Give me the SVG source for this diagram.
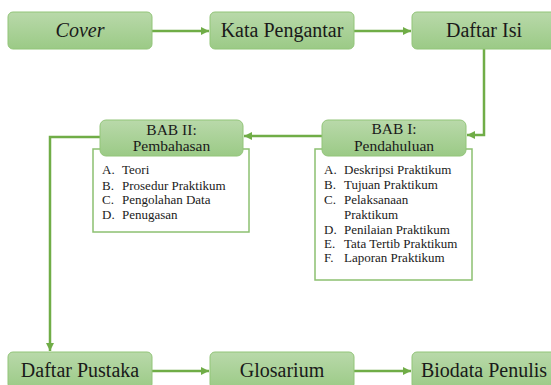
<svg xmlns="http://www.w3.org/2000/svg" width="551" height="385" viewBox="0 0 551 385">
  <defs>
    <linearGradient id="g" x1="0" y1="0" x2="0" y2="1">
      <stop offset="0" stop-color="#b9d9aa"/>
      <stop offset="1" stop-color="#9bca86"/>
    </linearGradient>
    <marker id="ah" markerUnits="userSpaceOnUse" markerWidth="9" markerHeight="8" refX="8" refY="4" orient="auto">
      <path d="M0,0 L8,4 L0,8 Z" fill="#70ad47"/>
    </marker>
    <style>
      text { font-family: 'Liberation Serif', 'Times New Roman', Times, serif; }
      .box { fill: url(#g); stroke: #92c579; stroke-width: 1; }
      .panel { fill: #ffffff; stroke: #8cc070; stroke-width: 1.5; }
      .big { font-size: 20px; fill: #1a1a1a; text-anchor: middle; }
      .hd { font-size: 15.5px; fill: #1a1a1a; text-anchor: middle; }
      .li { font-size: 13px; fill: #1a1a1a; }
      .conn { fill: none; stroke: #70ad47; stroke-width: 2.5; }
    </style>
  </defs>
  <rect width="551" height="385" fill="#ffffff"/>

  <g id="connectors">
    <path class="conn" d="M152,31 H209" marker-end="url(#ah)"/>
    <path class="conn" d="M354,31 H411" marker-end="url(#ah)"/>
    <path class="conn" d="M484,49 V135 H467" marker-end="url(#ah)"/>
    <path class="conn" d="M322,136 H244" marker-end="url(#ah)"/>
    <path class="conn" d="M100,137 H50 V351" marker-end="url(#ah)"/>
    <path class="conn" d="M152,371 H209" marker-end="url(#ah)"/>
    <path class="conn" d="M354,371 H411" marker-end="url(#ah)"/>
  </g>

  <g id="cover">
    <rect class="box" x="8" y="12" width="144" height="37" rx="5"/>
    <text class="big" x="80" y="37" font-style="italic">Cover</text>
  </g>
  <g id="kata-pengantar">
    <rect class="box" x="210" y="12" width="144" height="37" rx="5"/>
    <text class="big" x="282" y="37">Kata Pengantar</text>
  </g>
  <g id="daftar-isi">
    <rect class="box" x="412" y="12" width="144" height="37" rx="5"/>
    <text class="big" x="484" y="37">Daftar Isi</text>
  </g>

  <g id="bab1">
    <rect class="panel" x="315" y="149" width="157" height="131"/>
    <rect class="box" x="322" y="120" width="144" height="36" rx="6"/>
    <text class="hd" x="394" y="134">BAB I:</text>
    <text class="hd" x="394" y="151">Pendahuluan</text>
    <g class="li">
      <text x="324" y="174">A.</text><text x="344" y="174">Deskripsi Praktikum</text>
      <text x="324" y="189">B.</text><text x="344" y="189">Tujuan Praktikum</text>
      <text x="324" y="204">C.</text><text x="344" y="204">Pelaksanaan</text>
      <text x="344" y="219">Praktikum</text>
      <text x="324" y="234">D.</text><text x="344" y="234">Penilaian Praktikum</text>
      <text x="324" y="248">E.</text><text x="344" y="248">Tata Tertib Praktikum</text>
      <text x="324" y="262">F.</text><text x="344" y="262">Laporan Praktikum</text>
    </g>
  </g>

  <g id="bab2">
    <rect class="panel" x="93" y="149" width="156" height="83"/>
    <rect class="box" x="100" y="120" width="143" height="36" rx="6"/>
    <text class="hd" x="171.5" y="135">BAB II:</text>
    <text class="hd" x="171.5" y="151">Pembahasan</text>
    <g class="li">
      <text x="102" y="174">A.</text><text x="122" y="174">Teori</text>
      <text x="102" y="190">B.</text><text x="122" y="190">Prosedur Praktikum</text>
      <text x="102" y="204">C.</text><text x="122" y="204">Pengolahan Data</text>
      <text x="102" y="219">D.</text><text x="122" y="219">Penugasan</text>
    </g>
  </g>

  <g id="daftar-pustaka">
    <rect class="box" x="8" y="352" width="144" height="37" rx="5"/>
    <text class="big" x="80" y="377">Daftar Pustaka</text>
  </g>
  <g id="glosarium">
    <rect class="box" x="210" y="352" width="144" height="37" rx="5"/>
    <text class="big" x="282" y="377">Glosarium</text>
  </g>
  <g id="biodata-penulis">
    <rect class="box" x="412" y="352" width="144" height="37" rx="5"/>
    <text class="big" x="484" y="377">Biodata Penulis</text>
  </g>
</svg>
